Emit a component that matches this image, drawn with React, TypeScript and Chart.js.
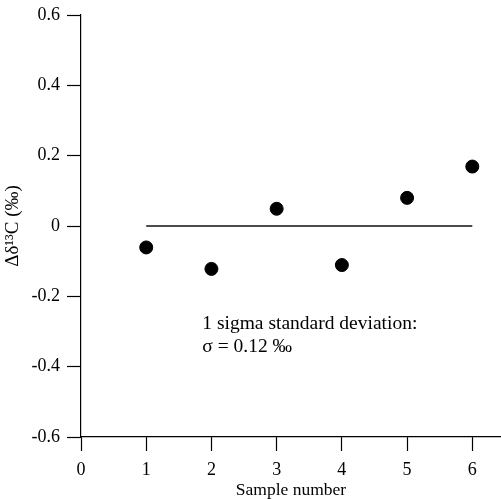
import React, { useEffect, useRef } from "react";
import { Chart, registerables } from "chart.js";

Chart.register(...registerables);

const sampleNumbers = [1, 2, 3, 4, 5, 6];
const deltaValues = [-0.061, -0.122, 0.049, -0.111, 0.08, 0.169];
const meanLineX = [1, 6];
const meanLineY = [0, 0];
const annotationLines = ["1 sigma standard deviation:", "σ = 0.12 ‰"];
const yTitle = "Δδ¹³C (‰)";
const xTitle = "Sample number";

const FONT = "'Times New Roman', 'Liberation Serif', serif";

const annotationPlugin = {
  id: "sigmaNote",
  afterDatasetsDraw(chart: any) {
    const { ctx, scales } = chart;
    const x = scales.x.getPixelForValue(1.86);
    const y1 = scales.y.getPixelForValue(-0.293);
    const y2 = scales.y.getPixelForValue(-0.358);
    ctx.save();
    ctx.fillStyle = "#000";
    ctx.font = `19.5px ${FONT}`;
    ctx.textBaseline = "alphabetic";
    ctx.textAlign = "left";
    ctx.fillText(annotationLines[0], x, y1);
    ctx.fillText(annotationLines[1], x, y2);
    ctx.restore();
  },
};

export default function App() {
  const ref = useRef<HTMLCanvasElement | null>(null);
  useEffect(() => {
    document.body.style.margin = "0";
    const canvas = ref.current!;
    const chart = new Chart(canvas, {
      type: "scatter",
      data: {
        datasets: [
          {
            label: "mean",
            data: meanLineX.map((x, i) => ({ x, y: meanLineY[i] })),
            showLine: true,
            borderColor: "#111",
            borderWidth: 1.5,
            pointRadius: 0,
          },
          {
            label: "samples",
            data: sampleNumbers.map((x, i) => ({ x, y: deltaValues[i] })),
            backgroundColor: "#000",
            borderColor: "#000",
            pointRadius: 6.5,
            pointHoverRadius: 6.5,
          },
        ],
      },
      options: {
        responsive: false,
        animation: false,
        devicePixelRatio: 1,
        layout: { autoPadding: false, padding: { top: 15, right: 0, left: 0, bottom: 0 } },
        plugins: { legend: { display: false }, tooltip: { enabled: false } },
        scales: {
          x: {
            type: "linear",
            min: 0,
            max: 6.44,
            afterFit: (s: any) => {
              s.height = 62;
              s.paddingRight = 0;
              s.paddingLeft = 0;
            },
            ticks: {
              stepSize: 1,
              includeBounds: false,
              color: "#000",
              font: { family: FONT, size: 18 },
              padding: 8,
              maxRotation: 0,
            },
            grid: {
              drawOnChartArea: false,
              tickLength: 14,
              tickColor: "#000",
              tickWidth: 1.2,
            },
            border: { display: true, color: "#000", width: 1.2 },
            title: {
              display: true,
              text: xTitle,
              color: "#000",
              font: { family: FONT, size: 17.5 },
              padding: { top: 0, bottom: -2 },
            },
          },
          y: {
            type: "linear",
            min: -0.6,
            max: 0.6,
            afterFit: (s: any) => {
              s.width = 81;
              s.paddingTop = 0;
              s.paddingBottom = 0;
            },
            ticks: {
              stepSize: 0.2,
              color: "#000",
              font: { family: FONT, size: 18 },
              padding: 7,
              callback: (v: any) => {
                const n = Math.round(Number(v) * 10) / 10;
                return n === 0 ? "0" : String(n);
              },
            },
            grid: {
              drawOnChartArea: false,
              tickLength: 14,
              tickColor: "#000",
              tickWidth: 1.2,
            },
            border: { display: true, color: "#000", width: 1.2 },
            title: {
              display: true,
              text: yTitle,
              color: "#000",
              font: { family: FONT, size: 19 },
              padding: { top: 2, bottom: 0 },
            },
          },
        },
      },
      plugins: [annotationPlugin],
    });
    return () => chart.destroy();
  }, []);
  return <canvas ref={ref} width={501} height={499} style={{ display: "block" }} />;
}
